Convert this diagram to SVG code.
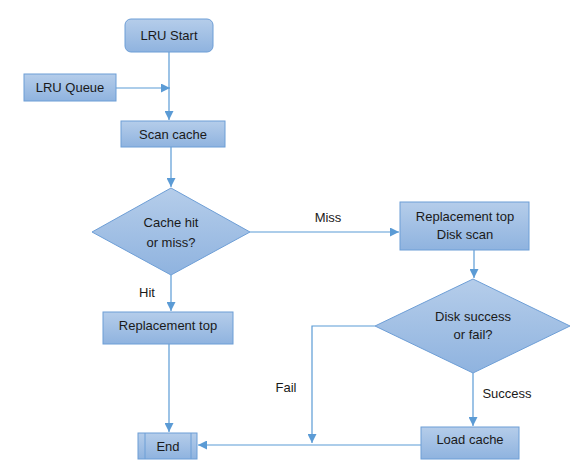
<svg xmlns="http://www.w3.org/2000/svg" width="583" height="471" viewBox="0 0 583 471">
<defs>
<linearGradient id="g" x1="0" y1="0" x2="0" y2="1">
<stop offset="0" stop-color="#b5cdea"/>
<stop offset="1" stop-color="#8fb3df"/>
</linearGradient>
<marker id="ah" viewBox="0 0 10 10" refX="10" refY="5" markerWidth="9" markerHeight="9" markerUnits="userSpaceOnUse" orient="auto">
<path d="M0,0 L10,5 L0,10 z" fill="#5b9bd5"/>
</marker>
<style>
.n{fill:url(#g);stroke:#6d9ed6;stroke-width:1}
.t{font-family:"Liberation Sans",Arial,sans-serif;font-size:13px;fill:#1a1a1a;text-anchor:middle}
.c{fill:none;stroke:#5b9bd5;stroke-width:1.2}
</style>
</defs>
<rect width="583" height="471" fill="#ffffff"/>
<g id="connectors">
<path class="c" d="M169,52 V120" marker-end="url(#ah)"/>
<path class="c" d="M116,88 H170" marker-end="url(#ah)"/>
<path class="c" d="M171,147 V187" marker-end="url(#ah)"/>
<path class="c" d="M250,232 H399" marker-end="url(#ah)"/>
<path class="c" d="M171,275 V311" marker-end="url(#ah)"/>
<path class="c" d="M169,344 V432" marker-end="url(#ah)"/>
<path class="c" d="M474,250 V278" marker-end="url(#ah)"/>
<path class="c" d="M375,326 H312 V443" marker-end="url(#ah)"/>
<path class="c" d="M473,373 V426" marker-end="url(#ah)"/>
<path class="c" d="M421,445 H198" marker-end="url(#ah)"/>
<text class="t" x="328" y="222">Miss</text>
<text class="t" x="147" y="297">Hit</text>
<text class="t" x="286" y="392">Fail</text>
<text class="t" x="507" y="398">Success</text>
</g>
<g id="lru-start">
<rect class="n" x="125" y="19" width="88" height="33" rx="6"/>
<text class="t" x="169" y="40">LRU Start</text>
</g>
<g id="lru-queue">
<rect class="n" x="24" y="74" width="92" height="27"/>
<text class="t" x="70" y="92">LRU Queue</text>
</g>
<g id="scan-cache">
<rect class="n" x="121" y="121" width="104" height="26"/>
<text class="t" x="173" y="139">Scan cache</text>
</g>
<g id="cache-decision">
<polygon class="n" points="171,188 250,232 171,275 92,232"/>
<text class="t" x="171" y="227">Cache hit</text>
<text class="t" x="171" y="247">or miss?</text>
</g>
<g id="replacement-top">
<rect class="n" x="103" y="312" width="130" height="32"/>
<text class="t" x="168" y="330">Replacement top</text>
</g>
<g id="disk-scan">
<rect class="n" x="400" y="202" width="129" height="48"/>
<text class="t" x="465" y="221">Replacement top</text>
<text class="t" x="465" y="239">Disk scan</text>
</g>
<g id="disk-decision">
<polygon class="n" points="473,279 570,326 473,373 375,326"/>
<text class="t" x="473" y="321">Disk success</text>
<text class="t" x="473" y="339">or fail?</text>
</g>
<g id="load-cache">
<rect class="n" x="421" y="427" width="98" height="32"/>
<text class="t" x="470" y="444">Load cache</text>
</g>
<g id="end">
<rect class="n" x="138" y="433" width="59" height="26"/>
<line x1="145" y1="433" x2="145" y2="459" stroke="#6d9ed6"/>
<line x1="191" y1="433" x2="191" y2="459" stroke="#6d9ed6"/>
<text class="t" x="168" y="451">End</text>
</g>
</svg>
